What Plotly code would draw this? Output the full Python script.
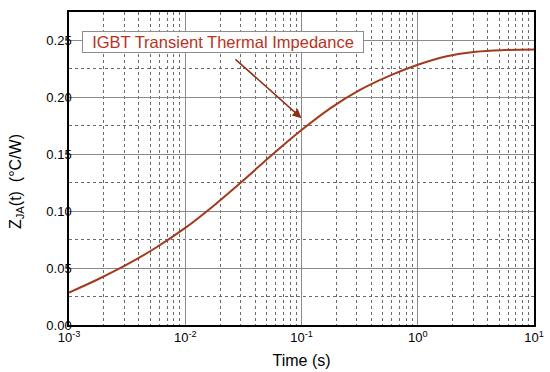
import plotly.graph_objects as go

# Data (curve read at quarter-decade steps)
time_s = [0.001, 0.001778, 0.003162, 0.005623, 0.01, 0.01778, 0.03162, 0.05623, 0.1,
          0.1778, 0.3162, 0.5623, 1.0, 1.778, 3.162, 5.623, 10.0]
zja = [0.0285, 0.0402, 0.0532, 0.0681, 0.0853, 0.1053, 0.1271, 0.1498, 0.1713,
       0.1906, 0.2063, 0.2186, 0.2286, 0.2361, 0.2401, 0.2416, 0.2421]

x_tickvals = [1e-3, 1e-2, 1e-1, 1e0, 1e1]
x_ticklabels = ["10<sup>-3</sup>", "10<sup>-2</sup>", "10<sup>-1</sup>", "10<sup>0</sup>", "10<sup>1</sup>"]
y_ticks = [0.00, 0.05, 0.10, 0.15, 0.20, 0.25]
y_ticklabels = ["0.00", "0.05", "0.10", "0.15", "0.20", "0.25"]

label_text = "IGBT Transient Thermal Impedance"
label_pos = (-1.675, 0.2490)      # (log10 time, value)
arrow_tip = (-1.0, 0.1817)
arrow_tail = (-1.581, 0.2346)

FONT = "Arial, Liberation Sans, sans-serif"
CURVE = "#A33A1E"

fig = go.Figure()
fig.add_trace(go.Scatter(x=time_s, y=zja, mode="lines",
                         line=dict(color=CURVE, width=2, shape="spline", smoothing=1.0),
                         showlegend=False, hoverinfo="skip"))

fig.update_layout(
    width=550, height=372,
    margin=dict(l=69, r=16, t=12, b=47, autoexpand=False),
    paper_bgcolor="white", plot_bgcolor="white",
    font=dict(family=FONT, color="black"),
    xaxis=dict(type="log", range=[-3, 1], tickvals=x_tickvals, ticktext=x_ticklabels,
               automargin=False,
               showline=True, linecolor="black", linewidth=1.5, mirror=True,
               showgrid=True, gridcolor="#8a8a8a", gridwidth=1,
               ticks="", tickfont=dict(size=13, family=FONT),
               minor=dict(dtick="D1", showgrid=True, gridcolor="#6a6a6a", griddash="dot", gridwidth=1, ticks=""),
               title=dict(text="Time (s)", font=dict(size=16, family=FONT), standoff=10),
               zeroline=False),
    yaxis=dict(range=[0, 0.275], tickvals=y_ticks, ticktext=y_ticklabels,
               automargin=False,
               showline=True, linecolor="black", linewidth=1.5, mirror=True,
               showgrid=True, gridcolor="#8a8a8a", gridwidth=1,
               ticks="", tickfont=dict(size=13, family=FONT), ticklabelstandoff=-7,
               minor=dict(dtick=0.025, showgrid=True, gridcolor="#6a6a6a", griddash="dot", gridwidth=1, ticks=""),
               zeroline=False),
)

fig.add_annotation(x=label_pos[0], y=label_pos[1], xref="x", yref="y", text=label_text,
                   showarrow=False, font=dict(size=16.5, color="#B8321E", family=FONT),
                   width=278, height=18, align="center", valign="middle",
                   bgcolor="white", bordercolor="#8c8c8c", borderwidth=1, borderpad=1)

fig.add_annotation(x=arrow_tip[0], y=arrow_tip[1], xref="x", yref="y",
                   ax=arrow_tail[0], ay=arrow_tail[1], axref="x", ayref="y",
                   text="", showarrow=True, arrowhead=2, arrowsize=1.2, arrowwidth=1.5,
                   arrowcolor="#8E3014")

fig.add_annotation(x=-0.114, y=0.46, xref="paper", yref="paper", xanchor="center", yanchor="middle",
                   text="Z<sub>JA</sub>(t)  (°C/W)", textangle=-90, showarrow=False,
                   font=dict(size=16, family=FONT, color="black"))

fig.write_html("out.html", config={"displayModeBar": False},
               post_script="document.body.style.margin='0px';")
